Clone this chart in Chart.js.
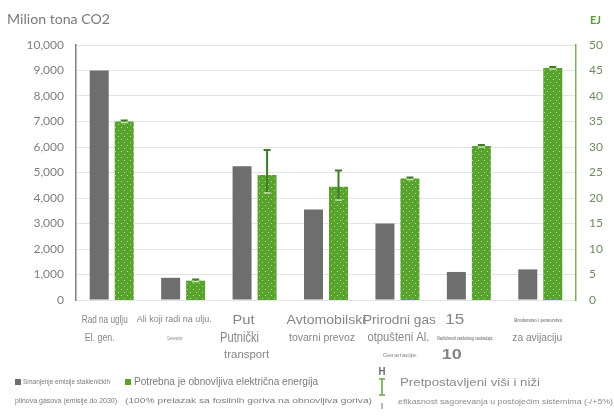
<!DOCTYPE html>
<html>
<head>
<meta charset="utf-8">
<script src="https://cdn.jsdelivr.net/npm/chart.js@4/dist/chart.umd.min.js"></script>
<style>
  html, body { margin: 0; padding: 0; background: #fff; }
  #wrap { width: 614px; height: 416px; position: relative; }
</style>
</head>
<body>
<div id="wrap"><canvas id="c" width="614" height="416"></canvas></div>
<script>
// Sector categories (x axis), each label split into its printed lines
const categoryLabels = [
  ['Rad na uglju', 'El. gen.'],
  ['Ali koji radi na ulju.', 'Generacije.'],
  ['Put', 'Putnički', 'transport'],
  ['Avtomobilski', 'tovarni prevoz'],
  ['Prirodni gas', 'otpušteni Al.', 'Generacije.'],
  ['15', 'Nadležnosti vazdušnog saobraćaja', '10'],
  ['Brodarstvo i pomorstvo', 'za avijaciju']
];
const categories = categoryLabels.map(l => l.join(' '));

// Emission reductions, million tonnes CO2 (left axis)
const emissionCuts = [9000, 870, 5250, 3550, 3000, 1100, 1200];

// Renewable electricity required, EJ (right axis)
const renewableEJ = [35, 3.8, 24.5, 22.2, 23.8, 30.2, 45.5];
// Higher / lower efficiency assumptions, EJ
const renewableHigh = [35.2, 4.0, 29.4, 25.4, 24.0, 30.4, 45.7];
const renewableLow  = [34.8, 3.6, 21.0, 19.6, 23.6, 30.0, 45.3];

// Axis tick values
const leftTicks = [0, 1000, 2000, 3000, 4000, 5000, 6000, 7000, 8000, 9000, 10000];
const rightTicks = [0, 5, 10, 15, 20, 25, 30, 35, 40, 45, 50];

const GREY = '#6e6e6e';
const GREEN = '#58a22e';
const DARK_GREEN = '#3f7a25';
const LABEL = '#858585';
const FONT = 'Lato, "Open Sans", sans-serif';
const SANS = '"Liberation Sans", Arial, sans-serif';

// Typesetting of each category label line: offset from the category centre,
// font size, weight and set width
const labelStyle = [
  [{ dx: -7, size: 10, w: 46 }, { dx: -12, size: 10, w: 30 }],
  [{ dx: -9, size: 8.5, w: 75 }, { dx: -8, size: 6, w: 16 }],
  [{ dx: -11, size: 13, w: 22 }, { dx: -15, size: 15, w: 39 }, { dx: -8, size: 11, w: 45 }],
  [{ dx: 0, size: 13, w: 79 }, { dx: -4, size: 10.5, w: 66 }],
  [{ dx: 2, size: 13, w: 73 }, { dx: 1, size: 12, w: 62 }, { dx: 3, size: 6, w: 35 }],
  [{ dx: -14, size: 14, w: 19 }, { dx: -4, size: 6, w: 55, bold: true }, { dx: -17, size: 15, w: 20, bold: true }],
  [{ dx: -2, size: 6, w: 48, bold: true }, { dx: -3, size: 10, w: 50 }]
];
const labelRows = [320, 338, 355];

// Draws text squeezed or stretched horizontally to a set width
function fitText(ctx, text, x, y, font, width, align) {
  ctx.save();
  ctx.font = font;
  const m = ctx.measureText(text).width;
  const k = width / m;
  ctx.translate(x, y);
  ctx.scale(k, 1);
  ctx.textAlign = align;
  ctx.textBaseline = 'middle';
  ctx.fillText(text, 0, 0);
  ctx.restore();
}

// Dotted fill for the renewable bars
function dotPattern() {
  const p = document.createElement('canvas');
  p.width = 6; p.height = 6;
  const g = p.getContext('2d');
  g.fillStyle = GREEN;
  g.fillRect(0, 0, 6, 6);
  g.fillStyle = 'rgba(190,230,160,0.85)';
  g.fillRect(1, 1, 1, 1);
  g.fillRect(4, 4, 1, 1);
  return g.createPattern(p, 'repeat');
}

// Whiskers for the high / low efficiency range
const errorBars = {
  id: 'errorBars',
  afterDatasetsDraw(chart) {
    const meta = chart.getDatasetMeta(1);
    const y1 = chart.scales.y1;
    const ctx = chart.ctx;
    ctx.save();
    meta.data.forEach((bar, i) => {
      const top = y1.getPixelForValue(renewableHigh[i]);
      const bot = y1.getPixelForValue(renewableLow[i]);
      const x = bar.x;
      ctx.strokeStyle = DARK_GREEN;
      ctx.lineWidth = 2;
      ctx.beginPath();
      ctx.moveTo(x, top); ctx.lineTo(x, bot);
      ctx.moveTo(x - 3.5, top); ctx.lineTo(x + 3.5, top);
      ctx.stroke();
      ctx.strokeStyle = '#c4e3b0';
      ctx.lineWidth = 1.5;
      ctx.beginPath();
      ctx.moveTo(x - 3.5, bot); ctx.lineTo(x + 3.5, bot);
      ctx.stroke();
    });
    ctx.restore();
  }
};

// Axis titles, category labels and legend
const annotations = {
  id: 'annotations',
  afterDraw(chart) {
    const ctx = chart.ctx;
    const xs = chart.scales.x;
    ctx.save();

    ctx.fillStyle = '#7a7a7a';
    fitText(ctx, 'Milion tona CO2', 7, 20, '13px ' + FONT, 103, 'left');
    ctx.fillStyle = '#5f9a3c';
    fitText(ctx, 'EJ', 590, 20, 'bold 11px ' + FONT, 11, 'left');

    // category labels
    ctx.fillStyle = LABEL;
    categoryLabels.forEach((lines, i) => {
      const cx = xs.getPixelForValue(i);
      lines.forEach((text, j) => {
        const st = labelStyle[i][j];
        const font = (st.bold ? 'bold ' : '') + st.size + 'px ' + SANS;
        fitText(ctx, text, cx + st.dx, labelRows[j], font, st.w, 'center');
      });
    });

    // legend
    ctx.fillStyle = GREY;
    ctx.fillRect(15, 379, 6, 6);
    ctx.fillStyle = GREEN;
    ctx.fillRect(125, 379, 6, 6);

    ctx.fillStyle = '#7a7a7a';
    fitText(ctx, 'Smanjenje emisije stakleničkih', 23, 382, '7px ' + SANS, 87, 'left');
    fitText(ctx, 'plinova gasova (emisije do 2030)', 15, 401, '7px ' + SANS, 102, 'left');
    fitText(ctx, 'Potrebna je obnovljiva električna energija', 134, 382, '10.5px ' + SANS, 184, 'left');
    fitText(ctx, '(100% prelazak sa fosilnih goriva na obnovljiva goriva)', 125, 401, '7.5px ' + SANS, 247, 'left');
    ctx.fillStyle = '#8a8a8a';
    fitText(ctx, 'Pretpostavljeni viši i niži', 400, 383, '11px ' + SANS, 140, 'left');
    fitText(ctx, 'efikasnost sagorevanja u postojećim sistemima (-/+5%)', 398, 402, '8px ' + SANS, 215, 'left');

    ctx.fillStyle = '#6a6a6a';
    fitText(ctx, 'H', 382, 372, 'bold 10px ' + SANS, 7, 'center');

    // whisker symbol
    ctx.strokeStyle = '#6aab45';
    ctx.lineWidth = 1.6;
    ctx.beginPath();
    ctx.moveTo(382, 379); ctx.lineTo(382, 395);
    ctx.moveTo(379, 379); ctx.lineTo(385, 379);
    ctx.moveTo(379, 395); ctx.lineTo(385, 395);
    ctx.stroke();
    ctx.strokeStyle = '#8a8a8a';
    ctx.lineWidth = 1.2;
    ctx.beginPath();
    ctx.moveTo(382, 403); ctx.lineTo(382, 409);
    ctx.stroke();
    ctx.restore();
  }
};

new Chart(document.getElementById('c'), {
  type: 'bar',
  data: {
    labels: categories,
    datasets: [
      {
        label: 'Smanjenje emisije stakleničkih plinova gasova (emisije do 2030)',
        data: emissionCuts,
        backgroundColor: GREY,
        yAxisID: 'y'
      },
      {
        label: 'Potrebna je obnovljiva električna energija',
        data: renewableEJ,
        backgroundColor: dotPattern(),
        yAxisID: 'y1'
      }
    ]
  },
  options: {
    responsive: false,
    animation: false,
    devicePixelRatio: 1,
    categoryPercentage: 0.7,
    barPercentage: 0.76,
    layout: { padding: { left: 0, right: 0, top: 45, bottom: 0 } },
    plugins: {
      legend: { display: false },
      tooltip: { enabled: false }
    },
    scales: {
      x: {
        grid: { display: false },
        border: { display: false },
        ticks: { display: false },
        afterFit(s) { s.height = 116; }
      },
      y: {
        position: 'left',
        min: 0, max: 10000,
        afterBuildTicks(s) { s.ticks = leftTicks.map(v => ({ value: v })); },
        afterFit(s) { s.width = 76; },
        grid: { color: '#e4e4e4', lineWidth: 1, drawTicks: false },
        border: { display: true, color: '#808080', width: 1.5 },
        ticks: {
          padding: 12,
          color: '#7f7f7f',
          font: { family: FONT, size: 12 },
          callback: v => v.toLocaleString('en-US')
        }
      },
      y1: {
        position: 'right',
        min: 0, max: 50,
        afterBuildTicks(s) { s.ticks = rightTicks.map(v => ({ value: v })); },
        afterFit(s) { s.width = 38; },
        grid: { display: false, drawTicks: false },
        border: { display: true, color: '#78b058', width: 1.5 },
        ticks: {
          padding: 13,
          color: '#6f8a62',
          font: { family: FONT, size: 12 }
        }
      }
    }
  },
  plugins: [errorBars, annotations]
});
</script>
</body>
</html>
